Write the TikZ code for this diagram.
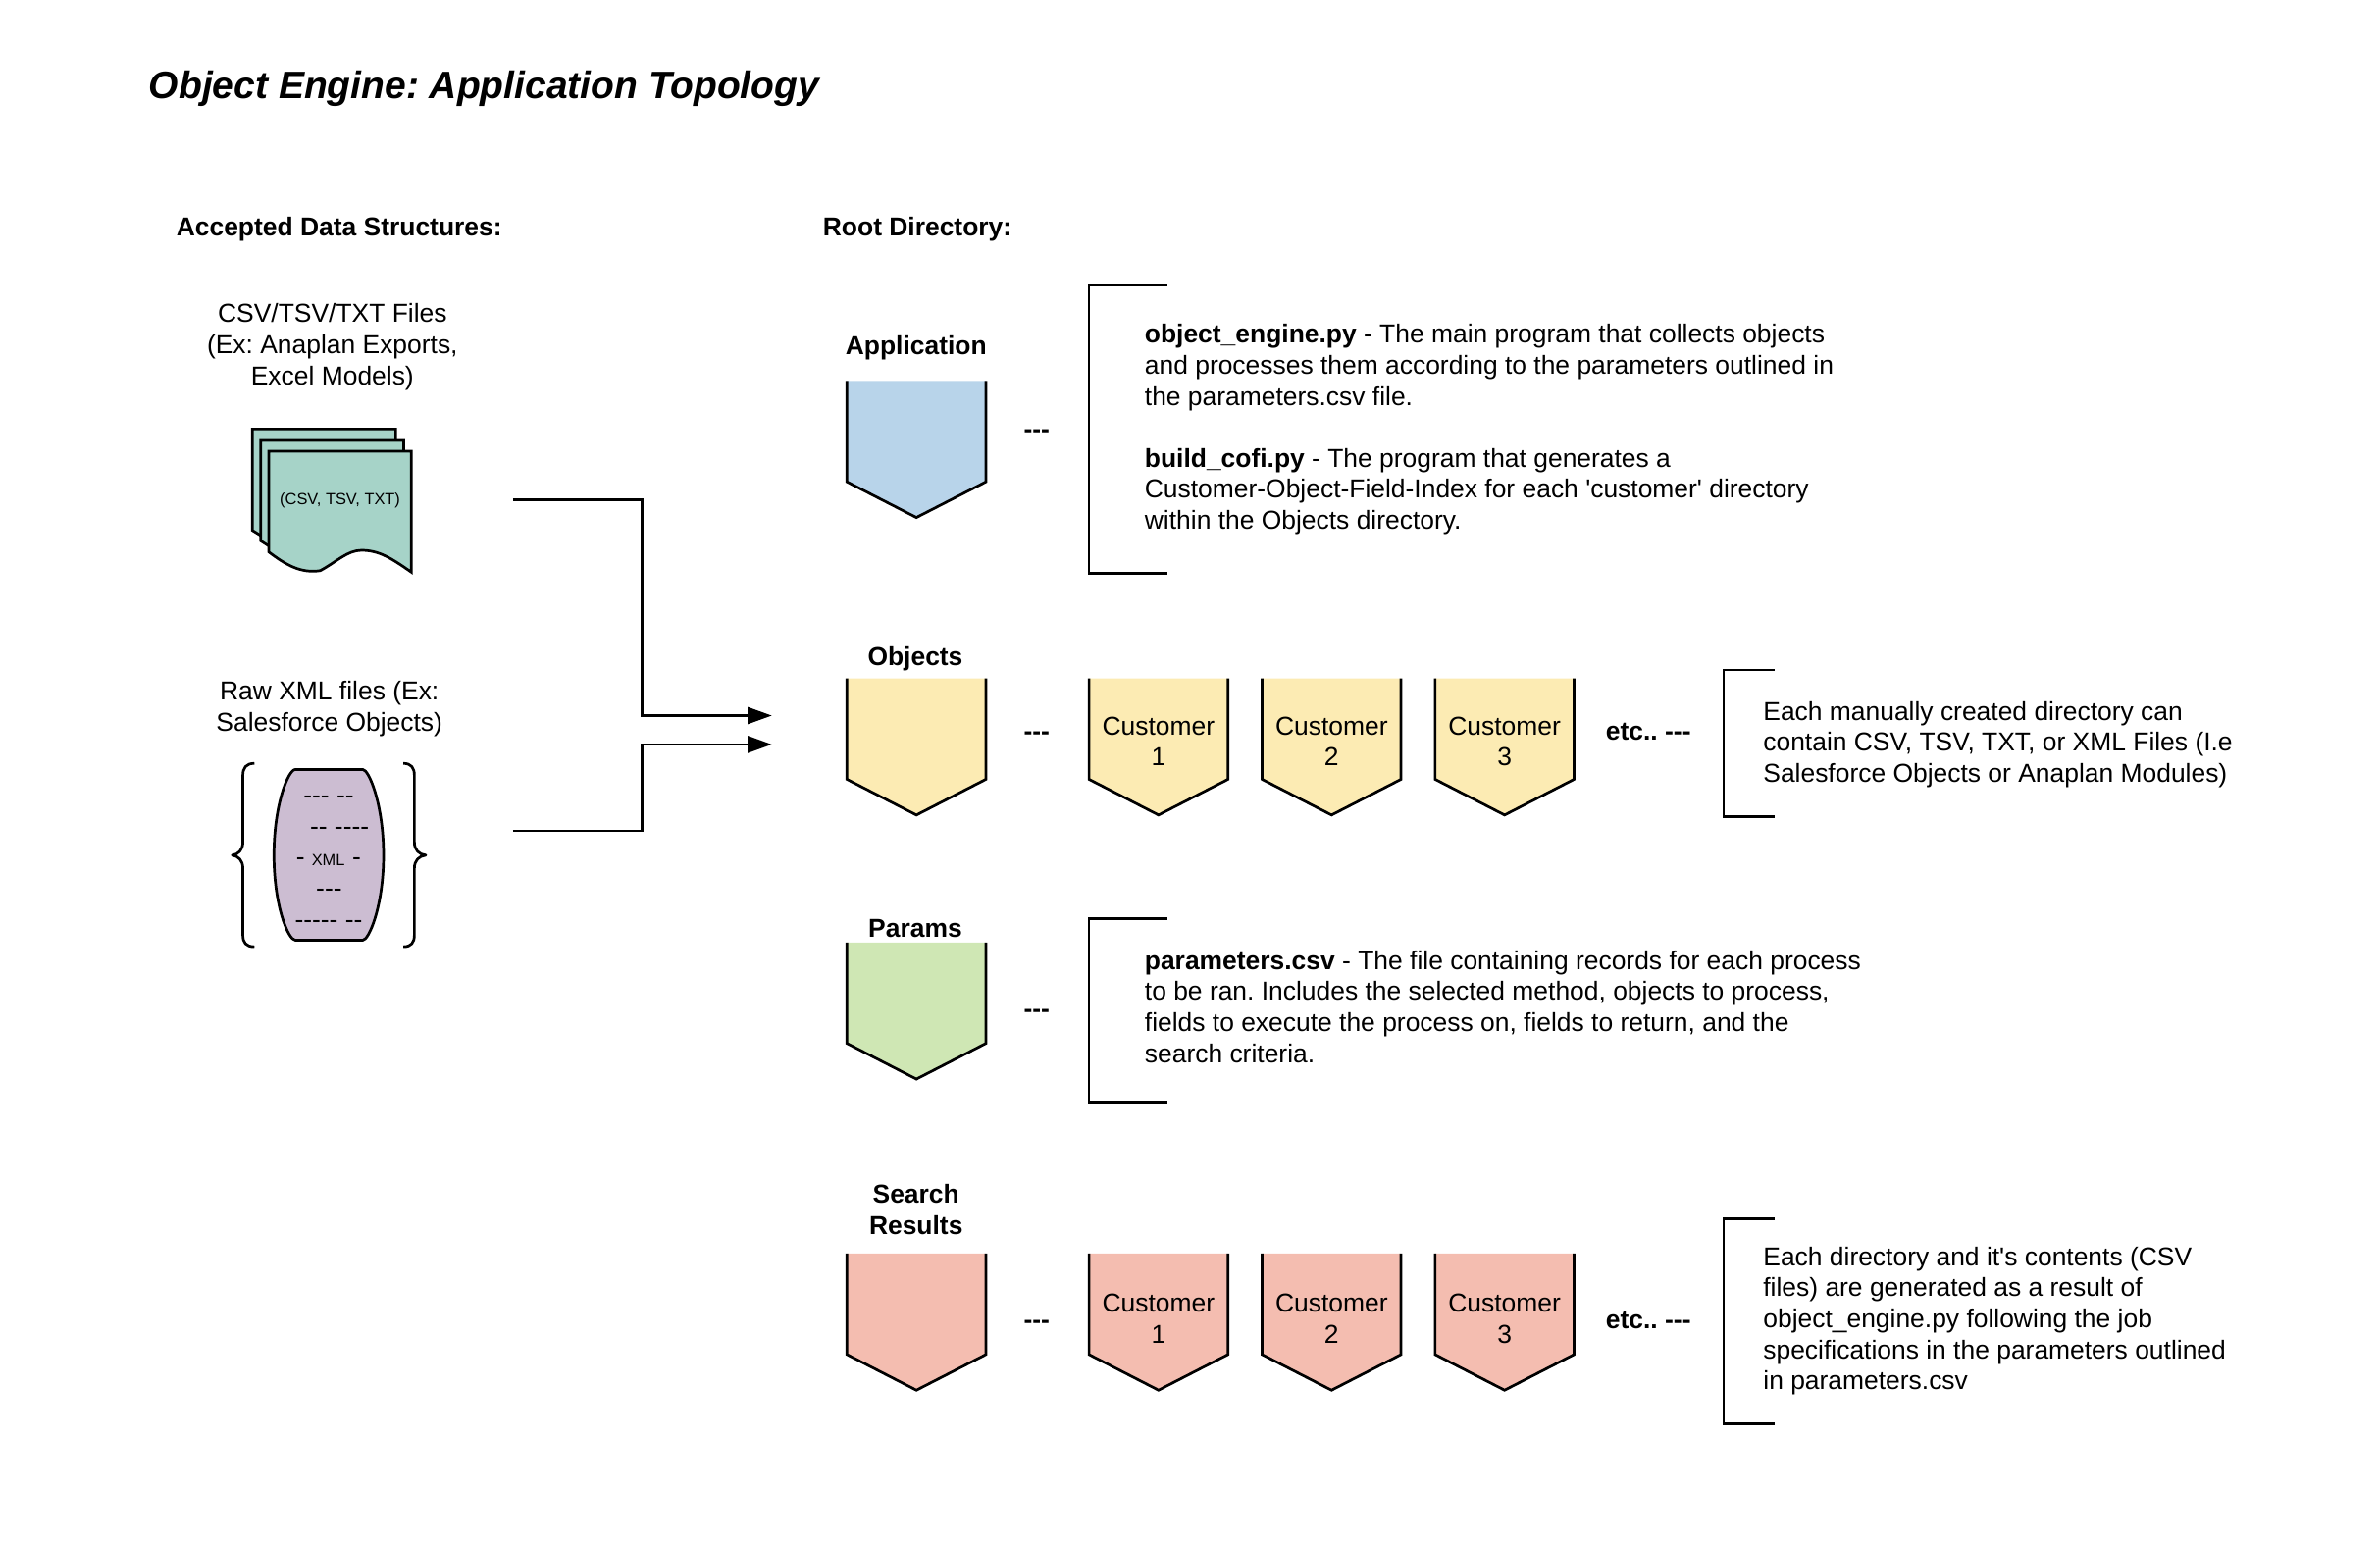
\documentclass[tikz,border=0pt]{standalone}
\usepackage{fontspec}
\setmainfont{Liberation Sans}[Ligatures=TeXOff]
\usetikzlibrary{scopes,arrows.meta}

\newcommand{\pocket}[6]{%
    \fill[#4] (#2,#3) -- ++(91.5,0) -- ++(0,66.5) -- ++(-45.75,23.5) -- ++(-45.75,-23.5) -- cycle;
    \draw[edge] (#2,#3) -- ++(0,66.5) -- ++(45.75,23.5) -- ++(45.75,-23.5) -- ++(0,-66.5);
    \path (#2,#3) ++(45.75,#6) node[body,align=center] (#1) {#5};
}

\definecolor{appblue}{HTML}{B8D4EA}
\definecolor{objyellow}{HTML}{FCEBB3}
\definecolor{pargreen}{HTML}{CFE7B4}
\definecolor{resred}{HTML}{F4BDB0}
\definecolor{csvteal}{HTML}{A6D3C8}
\definecolor{xmlpurple}{HTML}{CCBDD2}

\begin{document}
\frenchspacing
\begin{tikzpicture}[
    x=1pt,y=-1pt,
    edge/.style={draw=black,line width=1.75pt,line join=miter},
    link/.style={draw=black,line width=1.75pt,-{Triangle[length=16pt,width=11pt]}},
    bracket/.style={draw=black,line width=1.75pt},
    curly/.style={draw=black,line width=1.75pt,line join=round},
    body/.style={inner sep=0pt,font=\fontsize{17.08}{20.45}\selectfont},
    bold/.style={inner sep=0pt,font=\fontsize{17.08}{20.45}\selectfont\bfseries},
    tiny/.style={inner sep=0pt,font=\fontsize{10.6}{13}\selectfont},
    title/.style={inner sep=0pt,font=\fontsize{25.2}{30}\selectfont\bfseries\itshape},
]
\useasboundingbox (0,0) rectangle (1568,1016);

\node[title,anchor=west] (title) at (98,58.5) {Object Engine: Application Topology};
\node[bold,anchor=west] (accepted) at (116,151) {Accepted Data Structures:};
\node[bold,anchor=west] (root) at (542,151) {Root Directory:};

%%%
% Accepted data structures
\node[body,align=center] (csvlabel) at (219,228.5) {CSV/TSV/TXT Files\\(Ex: Anaplan Exports,\\Excel Models)};
\draw[edge,fill=csvteal] (166.3,282.7) -- (260.7,282.7) -- (260.7,340) -- (172,353) -- (166.3,349.5) -- cycle;
\draw[edge,fill=csvteal] (171.7,290.2) -- (266,290.2) -- (266,345) -- (177.5,360) -- (171.7,356.3) -- cycle;
\draw[edge,fill=csvteal] (177.1,297.3) -- (271,297.3) -- (271,377) .. controls (258,368) and (250,362.6) .. (238.1,362.6)
    .. controls (229,362.6) and (222,370) .. (211,376) .. controls (198,378) and (188,372) .. (177.1,363.7) -- cycle;
\node[tiny] (csvtext) at (224,330) {(CSV, TSV, TXT)};

\node[body,align=center] (xmllabel) at (217,467) {Raw XML files (Ex:\\Salesforce Objects)};
\draw[edge,fill=xmlpurple] (194.6,507) -- (239,507) .. controls (243,507) and (252.7,530) .. (252.7,563.5)
    .. controls (252.7,597) and (243,619.5) .. (239,619.5) -- (194.6,619.5)
    .. controls (190,619.5) and (180.5,597) .. (180.5,563.5) .. controls (180.5,530) and (190,507) .. (194.6,507) -- cycle;
\node[body] (xmlrow1) at (216.5,527) {--- --};
\node[body] (xmlrow2) at (223.7,547.5) {-- ----};
\node[body] (xmlrow3a) at (198,568) {-};
\node[tiny] (xmltext) at (216.3,566.5) {XML};
\node[body] (xmlrow3b) at (235,568) {-};
\node[body] (xmlrow4) at (216.8,588.5) {---};
\node[body] (xmlrow5) at (216.5,609) {----- --};
% curly brackets
\draw[curly] (167.6,503) .. controls (162,503) and (160,506) .. (160,511) -- (160,555)
    .. controls (160,560) and (157,563) .. (153,563.5) .. controls (157,564) and (160,567) .. (160,572) -- (160,616)
    .. controls (160,621) and (162,623.8) .. (167.6,623.8);
\draw[curly] (265.7,503) .. controls (271,503) and (273,506) .. (273,511) -- (273,555)
    .. controls (273,560) and (276,563) .. (280.5,563.5) .. controls (276,564) and (273,567) .. (273,572) -- (273,616)
    .. controls (273,621) and (271,623.8) .. (265.7,623.8);

%%%
% Connectors into the root directory
\coordinate (csvout) at (338,329.5);
\coordinate (xmlout) at (338,547.5);
\coordinate (objin1) at (508.5,471.5);
\coordinate (objin2) at (508.5,490.5);
{[link]
    \draw (csvout) -- ++(85,0) |- (objin1);
    \draw (xmlout) -- ++(85,0) |- (objin2);
}

%%%
% Application row
\node[bold] (application) at (603.5,229) {Application};
\pocket{appdir}{558}{251}{appblue}{}{41}
\node[bold] (appdash) at (683,286) {---};
\draw[bracket] (769,188) -- (717.5,188) -- (717.5,378) -- (769,378);
\node[body,align=left,anchor=west] (apptext) at (754,283) {\textbf{object\_engine.py} - The main program that collects objects\\
    and processes them according to the parameters outlined in\\
    the parameters.csv file.\\[20.45pt]
    \textbf{build\_cofi.py} - The program that generates a\\
    Customer-Object-Field-Index for each 'customer' directory\\
    within the Objects directory.};

%%%
% Objects row
\node[bold] (objects) at (603,434) {Objects};
\pocket{objdir}{558}{447}{objyellow}{}{41}
\node[bold] (objdash) at (683,485) {---};
\pocket{objcust1}{717.5}{447}{objyellow}{Customer\\1}{41.5}
\pocket{objcust2}{831.5}{447}{objyellow}{Customer\\2}{41.5}
\pocket{objcust3}{945.5}{447}{objyellow}{Customer\\3}{41.5}
\node[bold] (objetc) at (1086,482) {etc.. ---};
\draw[bracket] (1169,441.5) -- (1135.5,441.5) -- (1135.5,538) -- (1169,538);
\node[body,align=left,anchor=west] (objtext) at (1161.5,490.5) {Each manually created directory can\\
    contain CSV, TSV, TXT, or XML Files (I.e\\
    Salesforce Objects or Anaplan Modules)};

%%%
% Params row
\node[bold] (params) at (603,612) {Params};
\pocket{pardir}{558}{621}{pargreen}{}{41}
\node[bold] (pardash) at (683,668) {---};
\draw[bracket] (769,605.5) -- (717.5,605.5) -- (717.5,726) -- (769,726);
\node[body,align=left,anchor=west] (partext) at (754,663.3) {\textbf{parameters.csv} - The file containing records for each process\\
    to be ran. Includes the selected method, objects to process,\\
    fields to execute the process on, fields to return, and the\\
    search criteria.};

%%%
% Search results row
\node[bold,align=center] (results) at (603.5,797) {Search\\Results};
\pocket{resdir}{558}{826}{resred}{}{41}
\node[bold] (resdash) at (683,873) {---};
\pocket{rescust1}{717.5}{826}{resred}{Customer\\1}{43}
\pocket{rescust2}{831.5}{826}{resred}{Customer\\2}{43}
\pocket{rescust3}{945.5}{826}{resred}{Customer\\3}{43}
\node[bold] (resetc) at (1086,870) {etc.. ---};
\draw[bracket] (1169,803) -- (1135.5,803) -- (1135.5,938) -- (1169,938);
\node[body,align=left,anchor=west] (restext) at (1161.5,870.3) {Each directory and it's contents (CSV\\
    files) are generated as a result of\\
    object\_engine.py following the job\\
    specifications in the parameters outlined\\
    in parameters.csv};
\end{tikzpicture}
\end{document}
